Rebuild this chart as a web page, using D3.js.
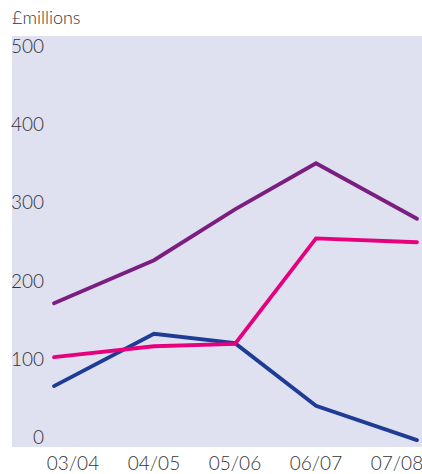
<!DOCTYPE html>
<html>
<head>
<meta charset="utf-8">
<script src="https://cdn.jsdelivr.net/npm/d3@7"></script>
<style>
  body { margin: 0; background: #fff; }
  svg { display: block; }
</style>
</head>
<body>
<div id="chart"></div>
<script>
// values, £ millions
const years = ["03/04", "04/05", "05/06", "06/07", "07/08"];
const purple = [180, 235, 300, 359, 288];
const pink = [111, 125, 128, 263, 258];
const blue = [74, 141, 129, 49, 5];
const yTicks = [0, 100, 200, 300, 400, 500];

const width = 422, height = 474;
const plot = {left: 12, top: 36, right: 422, bottom: 447};

const svg = d3.select("#chart").append("svg")
  .attr("width", width)
  .attr("height", height);

const font = "Lato, 'Open Sans', sans-serif";
const textColor = "#333";

svg.append("rect")
  .attr("x", plot.left)
  .attr("y", plot.top)
  .attr("width", plot.right - plot.left)
  .attr("height", plot.bottom - plot.top)
  .attr("fill", "#dfe0f0");

// labels sit on an even spacing
let xLabel = d3.scalePoint()
  .domain(years)
  .range([73, 397]);

// end points of the lines reach further out than their labels
let xLine = d3.scaleLinear()
  .domain(d3.range(years.length))
  .range(years.map((d, i) => xLabel(d) + (i === 0 ? -19 : i === years.length - 1 ? 20 : 0)));

let yScale = d3.scaleLinear()
  .domain([0, 500])
  .range([444, 53]);

svg.append("text")
  .attr("x", 12)
  .attr("y", 24)
  .attr("font-family", font)
  .attr("font-weight", 300)
  .attr("font-size", "18px")
  .attr("fill", textColor)
  .text("£millions");

svg.append("g")
  .selectAll("text")
  .data(yTicks)
  .enter().append("text")
    .attr("x", 44)
    .attr("y", d => yScale(d))
    .attr("text-anchor", "end")
    .attr("font-family", font)
    .attr("font-weight", 300)
    .attr("font-size", "19px")
    .attr("fill", textColor)
    .text(d => d);

svg.append("g")
  .selectAll("text")
  .data(years)
  .enter().append("text")
    .attr("x", d => xLabel(d))
    .attr("y", 470)
    .attr("text-anchor", "middle")
    .attr("font-family", font)
    .attr("font-weight", 300)
    .attr("font-size", "19px")
    .attr("fill", textColor)
    .text(d => d);

let line = d3.line()
  .x((d, i) => xLine(i))
  .y(d => yScale(d));

let series = [
  {values: purple, color: "#7a1f7f"},
  {values: blue, color: "#1e3c96"},
  {values: pink, color: "#e6007e"}
];

svg.append("g")
  .selectAll("path")
  .data(series)
  .enter().append("path")
    .attr("fill", "none")
    .attr("stroke", d => d.color)
    .attr("stroke-width", 3.8)
    .attr("stroke-linejoin", "miter")
    .attr("stroke-linecap", "round")
    .attr("d", d => line(d.values));
</script>
</body>
</html>
